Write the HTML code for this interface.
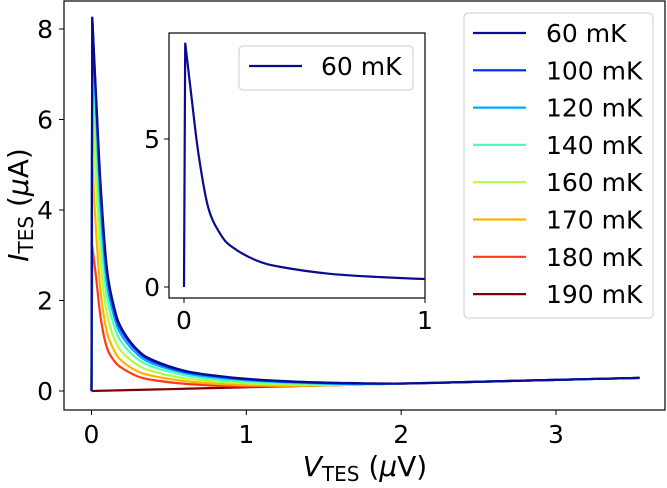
<!DOCTYPE html>
<html><head><meta charset="utf-8"><style>
body{margin:0;background:#fff}
svg text{font-family:"DejaVu Sans","Liberation Sans",sans-serif;fill:#000}
</style></head><body>
<svg id="chart" width="667" height="483" viewBox="0 0 667 483" xmlns="http://www.w3.org/2000/svg">
<g id="main"></g>
<g id="inset"></g>
</svg>
<script>
const voltages=[0,0.005,0.03,0.06,0.1,0.15,0.2,0.3,0.4,0.6,0.8,1.0,1.3,1.6,2.0,2.5,3.0,3.54];
const labels=["60 mK","100 mK","120 mK","140 mK","160 mK","170 mK","180 mK","190 mK"];
const colors=["#0b0b8f","#0022ff","#00a8ff","#4dffb8","#b0ff3a","#ffb300","#ff3a10","#800000"];
const i60=[0,8.25,6.5,4.5,2.7,1.8,1.35,0.9,0.68,0.45,0.34,0.27,0.21,0.18,0.165,0.205,0.246,0.29];
const i100=[0,8.25,6.4,4.35,2.6,1.73,1.3,0.87,0.65,0.43,0.33,0.26,0.2,0.17,0.164,0.205,0.246,0.29];
const i120=[0,8.25,6.2,4.0,2.4,1.6,1.2,0.8,0.6,0.4,0.3,0.24,0.19,0.16,0.164,0.205,0.246,0.29];
const i140=[0,7.6,5.6,3.5,2.1,1.4,1.05,0.7,0.53,0.35,0.26,0.21,0.17,0.145,0.164,0.205,0.246,0.29];
const i160=[0,6.35,4.6,2.83,1.7,1.13,0.85,0.57,0.43,0.28,0.21,0.17,0.14,0.135,0.164,0.205,0.246,0.29];
const i170=[0,5.1,3.5,2.17,1.3,0.87,0.65,0.43,0.33,0.22,0.16,0.13,0.115,0.131,0.164,0.205,0.246,0.29];
const i180=[0,3.2,2.5,1.6,0.95,0.65,0.5,0.32,0.24,0.16,0.12,0.1,0.11,0.131,0.164,0.205,0.246,0.29];
const i190=[0,0.0004,0.0025,0.005,0.008,0.012,0.016,0.025,0.033,0.049,0.066,0.082,0.107,0.131,0.164,0.205,0.246,0.29];
const mainXTicks=[0,1,2,3];
const mainYTicks=[0,2,4,6,8];
const insetXTicks=[0,1];
const insetYTicks=[0,5];
const series=[i60,i100,i120,i140,i160,i170,i180,i190];
const NS="http://www.w3.org/2000/svg";
function mk(tag,attrs,parent){const e=document.createElementNS(NS,tag);for(const k in attrs)e.setAttribute(k,attrs[k]);parent.appendChild(e);return e;}
function lin(d0,d1,r0,r1){return v=>r0+(v-d0)*(r1-r0)/(d1-d0);}
function pathFor(vs,is,sx,sy){
  const p=vs.map((v,k)=>[sx(v),sy(is[k])]);
  let d="M"+p[0][0]+","+p[0][1]+" L"+p[1][0]+","+p[1][1];
  for(let k=1;k<p.length-1;k++){
    const p0=p[Math.max(1,k-1)],p1=p[k],p2=p[k+1],p3=p[Math.min(p.length-1,k+2)];
    const c1=[p1[0]+(p2[0]-p0[0])/6,p1[1]+(p2[1]-p0[1])/6];
    const c2=[p2[0]-(p3[0]-p1[0])/6,p2[1]-(p3[1]-p1[1])/6];
    d+=" C"+c1[0]+","+c1[1]+" "+c2[0]+","+c2[1]+" "+p2[0]+","+p2[1];
  }
  return d;
}
const M=document.getElementById('main');
const L=64,R=665,T=1,B=410;
const sx=lin(0,3,91.5,556),sy=lin(0,8,391,29);
const clip=mk('clipPath',{id:'mc'},M);mk('rect',{x:L,y:T,width:R-L,height:B-T},clip);
const lg=mk('g',{'clip-path':'url(#mc)'},M);
for(let s=series.length-1;s>=0;s--){
  const pth=mk('path',{d:pathFor(voltages,series[s],sx,sy),fill:'none',stroke:colors[s],'stroke-width':2.2,'stroke-linejoin':'round'},lg);
  
  
}
mk('rect',{x:L,y:T,width:R-L,height:B-T,fill:'none',stroke:'#000','stroke-width':1.2,},M);
mainXTicks.forEach(t=>{const x=sx(t);mk('line',{x1:x,x2:x,y1:B,y2:B+5,stroke:'#000'},M);
 const tx=mk('text',{x:x,y:B+33,'font-size':25,'text-anchor':'middle'},M);tx.textContent=t;
 
 });
mainYTicks.forEach(t=>{const y=sy(t);mk('line',{x1:L-5,x2:L,y1:y,y2:y,stroke:'#000'},M);
 const tx=mk('text',{x:L-11,y:y+9,'font-size':25,'text-anchor':'end'},M);tx.textContent=t;
 
 });
const xl=mk('text',{x:365,y:476,'font-size':28,'text-anchor':'middle',},M);
xl.innerHTML='<tspan font-style="italic">V</tspan><tspan font-size="20" dy="5">TES</tspan><tspan dy="-5"> (</tspan><tspan font-style="italic">μ</tspan><tspan>V)</tspan>';
const yl=mk('text',{x:0,y:0,'font-size':28,'text-anchor':'middle',transform:'translate(28,205) rotate(-90)',},M);
yl.innerHTML='<tspan font-style="italic">I</tspan><tspan font-size="20" dy="5">TES</tspan><tspan dy="-5"> (</tspan><tspan font-style="italic">μ</tspan><tspan>A)</tspan>';
const lgd=mk('g',{},M);
mk('rect',{x:464,y:13,width:189,height:305,rx:4,fill:'#fff','fill-opacity':0.85,stroke:'#ccc'},lgd);
labels.forEach((lb,k)=>{const y=33+k*37.3;
 const g=mk('g',{},lgd);
 
 
 mk('line',{x1:473,x2:526,y1:y,y2:y,stroke:colors[k],'stroke-width':2.2},g);
 const tx=mk('text',{x:546,y:y+9,'font-size':25},g);tx.textContent=lb;});
const I=document.getElementById('inset');
const iL=169,iR=425,iT=33,iB=298;
const ix=lin(0,1,184,425),iy=lin(0,5,287,139);
mk('rect',{x:iL,y:iT,width:iR-iL,height:iB-iT,fill:'#fff',stroke:'#000','stroke-width':1.2,},I);
const ic=mk('clipPath',{id:'ic'},I);mk('rect',{x:iL,y:iT,width:iR-iL,height:iB-iT},ic);
const ig=mk('g',{'clip-path':'url(#ic)'},I);
const ip=mk('path',{d:pathFor(voltages,i60,ix,iy),fill:'none',stroke:colors[0],'stroke-width':2.2},ig);


insetXTicks.forEach(t=>{const x=ix(t);mk('line',{x1:x,x2:x,y1:iB,y2:iB+5,stroke:'#000'},I);
 const tx=mk('text',{x:x,y:iB+31,'font-size':25,'text-anchor':'middle'},I);tx.textContent=t;
 
 });
insetYTicks.forEach(t=>{const y=iy(t);mk('line',{x1:iL-5,x2:iL,y1:y,y2:y,stroke:'#000'},I);
 const tx=mk('text',{x:iL-9,y:y+9,'font-size':25,'text-anchor':'end'},I);tx.textContent=t;
 
 });
const il=mk('g',{},I);
mk('rect',{x:239,y:46,width:174,height:44,rx:4,fill:'#fff',stroke:'#ccc'},il);
mk('line',{x1:249,x2:302,y1:66,y2:66,stroke:colors[0],'stroke-width':2.2},il);
const it=mk('text',{x:321,y:75,'font-size':25},il);it.textContent=labels[0];
</script>
</body></html>
